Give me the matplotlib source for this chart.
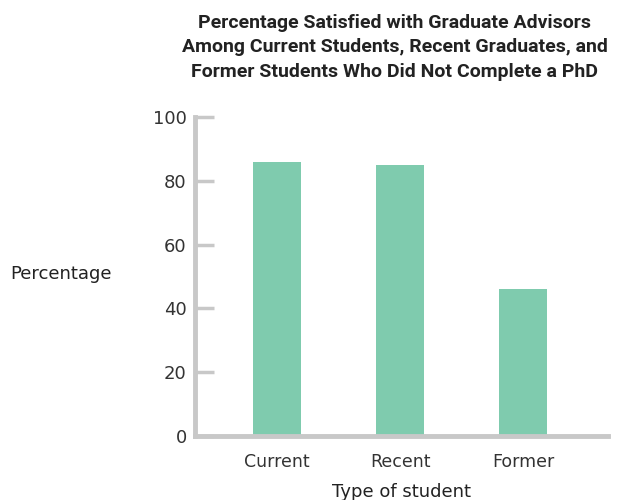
import numpy as np
import matplotlib.pyplot as plt

# Data
categories = ['Current', 'Recent', 'Former']
satisfied = [86, 85, 46]
yticks = [0, 20, 40, 60, 80, 100]

bar_color = '#7fcbae'
axis_color = '#c8c8c8'
text_color = '#333333'

fig = plt.figure(figsize=(6.19, 5.0), dpi=100)
ax = fig.add_axes([0.315, 0.128, 0.667, 0.638])

x = np.arange(len(categories))
ax.bar(x, satisfied, width=0.39, color=bar_color)

ax.set_xlim(-0.667, 2.69)
ax.set_ylim(0, 100)
ax.set_yticks(yticks)
ax.set_xticks(x)
ax.set_xticklabels(categories)

for s in ['top', 'right']:
    ax.spines[s].set_visible(False)
for s in ['left', 'bottom']:
    ax.spines[s].set_color(axis_color)
    ax.spines[s].set_linewidth(3.5)

ax.tick_params(axis='y', direction='in', length=14, width=2.5, color=axis_color,
               labelsize=13, labelcolor=text_color, pad=6)
ax.tick_params(axis='x', length=0, labelsize=12.5, labelcolor=text_color, pad=12)

ax.set_xlabel('Type of student', fontsize=13, color='#222222', labelpad=9)
fig.text(0.016, 0.452, 'Percentage', fontsize=13, color='#222222', va='center', ha='left')

fig.text(0.638, 0.972,
         'Percentage Satisfied with Graduate Advisors\n'
         'Among Current Students, Recent Graduates, and\n'
         'Former Students Who Did Not Complete a PhD',
         ha='center', va='top', fontsize=14, fontweight='bold', color='#222222',
         family=['Roboto', 'DejaVu Sans'], linespacing=1.45)

fig.savefig('out.png', dpi=100)
